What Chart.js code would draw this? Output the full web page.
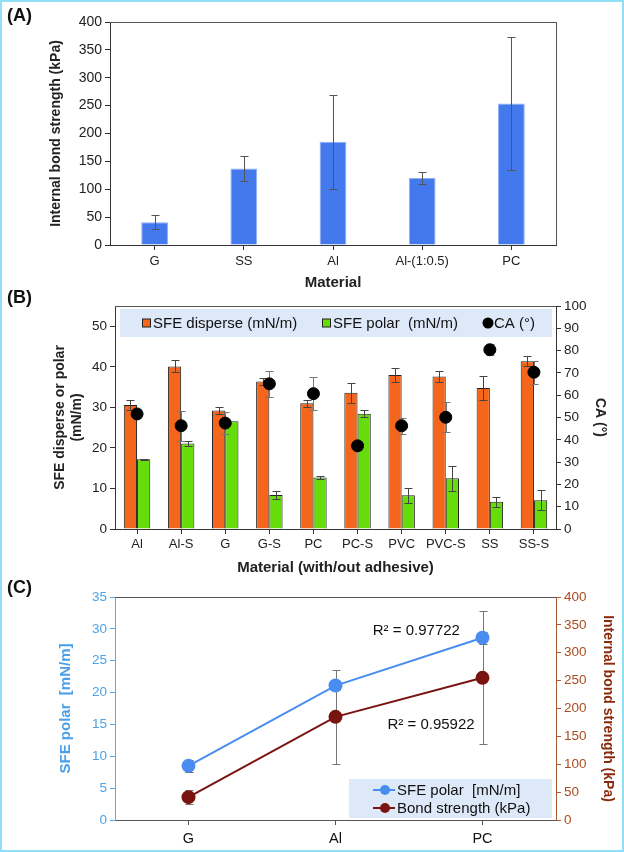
<!DOCTYPE html>
<html>
<head>
<meta charset="utf-8">
<script src="https://cdn.jsdelivr.net/npm/chart.js@4.4.1/dist/chart.umd.min.js"></script>
<style>
html, body { margin: 0; padding: 0; background: #fff; }
#frame { position: absolute; left: 0; top: 0; width: 620px; height: 848px; border: 2px solid #90e0f6; }
.pan { position: absolute; left: 0; width: 624px; }
.lbl { position: absolute; left: 7px; font: bold 18px "Liberation Sans", Arial, sans-serif; color: #111; }
</style>
</head>
<body>
<div id="frame"></div>
<div class="pan" style="top:0;height:292px"><canvas id="cA"></canvas></div>
<div class="pan" style="top:280px;height:300px"><canvas id="cB"></canvas></div>
<div class="pan" style="top:580px;height:272px"><canvas id="cC"></canvas></div>
<div class="lbl" style="top:5px">(A)</div>
<div class="lbl" style="top:287px">(B)</div>
<div class="lbl" style="top:577px">(C)</div>
<script>
// (A) internal bond strength
const matA = ['G', 'SS', 'Al', 'Al-(1:0.5)', 'PC'];
const bondA = [41, 137, 185, 120, 254];
const bondErrA = [12, 22, 84, 10.5, 119];

// (B) surface free energy + contact angle
const matB = ['Al', 'Al-S', 'G', 'G-S', 'PC', 'PC-S', 'PVC', 'PVC-S', 'SS', 'SS-S'];
const disperse = [30.6, 40.1, 29.2, 36.4, 31.0, 33.6, 38.0, 37.6, 34.8, 41.4];
const disperseErr = [1.2, 1.5, 0.9, 0.8, 0.8, 2.5, 1.7, 1.3, 3.0, 1.3];
const polar = [17.2, 21.1, 26.6, 8.4, 12.7, 28.4, 8.3, 12.5, 6.7, 7.1];
const polarErr = [0.15, 0.7, 0, 0.9, 0.3, 0.85, 1.8, 3.1, 1.2, 2.5];
const ca = [51.6, 46.3, 47.5, 65.1, 60.7, 37.3, 46.3, 50.1, 80.4, 70.3];
const caErr = [2, 6.8, 5, 5.8, 7.5, 2, 3.5, 6.7, 2.5, 5.2];

// (C) polar SFE vs bond strength
const matC = ['G', 'Al', 'PC'];
const polarC = [8.5, 21.1, 28.6];
const polarErrC = [0.9, 0.7, 0.95];
const bondC = [41, 185, 255];
const bondErrC = [12, 84, 119];
const r2Labels = ['R\u00B2 = 0.97722', 'R\u00B2 = 0.95922'];
const r2Anchor = [[1.55, 29.7], [1.65, 14.9]]; // [category index, left axis value]

Chart.defaults.font.family = '"Liberation Sans", Arial, sans-serif';
Chart.defaults.color = '#222';
Chart.defaults.animation = false;
Chart.defaults.plugins.legend.display = false;
Chart.defaults.plugins.tooltip.enabled = false;

// error bars, drawn per dataset
const errPlugin = {
  id: 'err',
  beforeDatasetDraw(chart, args) { if (chart.data.datasets[args.index].errBefore) drawErr(chart, args); },
  afterDatasetDraw(chart, args) { if (!chart.data.datasets[args.index].errBefore) drawErr(chart, args); }
};
function drawErr(chart, args) {
  const ds = chart.data.datasets[args.index];
  if (!ds.err) return;
  const meta = args.meta;
  const sc = chart.scales[meta.yAxisID];
  const ctx = chart.ctx;
  ctx.save();
  ctx.strokeStyle = ds.errColor || '#666';
  ctx.lineWidth = 1;
  meta.data.forEach((el, i) => {
    const e = ds.err[i];
    if (!e) return;
    const v = ds.data[i];
    const x = Math.round(el.x) + 0.5;
    const y1 = Math.round(sc.getPixelForValue(v + e)) + 0.5;
    const y2 = Math.round(sc.getPixelForValue(v - e)) + 0.5;
    ctx.beginPath();
    ctx.moveTo(x, y1); ctx.lineTo(x, y2);
    ctx.moveTo(x - 4, y1); ctx.lineTo(x + 4, y1);
    ctx.moveTo(x - 4, y2); ctx.lineTo(x + 4, y2);
    ctx.stroke();
  });
  ctx.restore();
}

// top and right edges of the plot frame
const boxPlugin = {
  id: 'box',
  afterDraw(chart, args, opts) {
    const a = chart.chartArea, ctx = chart.ctx;
    ctx.save();
    ctx.strokeStyle = opts.color || '#555';
    ctx.lineWidth = 1;
    ctx.beginPath();
    ctx.moveTo(a.left, Math.round(a.top) + 0.5);
    ctx.lineTo(a.right, Math.round(a.top) + 0.5);
    if (opts.right) {
      ctx.moveTo(Math.round(a.right) + 0.5, a.top);
      ctx.lineTo(Math.round(a.right) + 0.5, a.bottom);
    }
    ctx.stroke();
    ctx.restore();
  }
};

const tickFont = { size: 13.5 };
function axisGrid(color, offset) {
  return { display: true, drawOnChartArea: false, drawTicks: true, tickLength: 5, color: color, offset: !!offset };
}

// ---------- (A)
new Chart(document.getElementById('cA'), {
  type: 'bar',
  data: {
    labels: matA,
    datasets: [{
      data: bondA, err: bondErrA, errColor: '#555',
      backgroundColor: '#4479ee', borderColor: '#8db0f2', borderWidth: 1,
      barPercentage: 0.3, categoryPercentage: 1
    }]
  },
  options: {
    responsive: true, maintainAspectRatio: false,
    layout: { padding: { left: 44, right: 68, top: 22, bottom: 0 } },
    plugins: { box: { color: '#555', right: true } },
    scales: {
      x: {
        grid: axisGrid('#333'), border: { color: '#333' },
        ticks: { font: { size: 13 }, padding: 4, maxRotation: 0, autoSkip: false },
        title: { display: true, text: 'Material', font: { size: 15, weight: 'bold' }, padding: { top: 0, bottom: 0 } },
        afterFit(s) { s.height = 47; }
      },
      y: {
        min: 0, max: 400,
        grid: axisGrid('#333'), border: { color: '#333' },
        ticks: { stepSize: 50, font: { size: 14 } },
        title: { display: true, text: 'Internal bond strength (kPa)', font: { size: 14, weight: 'bold' }, padding: { top: 4, bottom: 4 } },
        afterFit(s) { s.width = 66; }
      }
    }
  },
  plugins: [errPlugin, boxPlugin]
});

// ---------- (B)
const legendB = {
  id: 'legendB',
  afterDraw(chart) {
    const a = chart.chartArea, ctx = chart.ctx;
    const top = a.top + 3, h = 28, cy = top + h / 2;
    ctx.save();
    ctx.fillStyle = '#dde9f8';
    ctx.fillRect(a.left + 5, top, a.right - a.left - 9, h);
    ctx.font = '15px "Liberation Sans", Arial, sans-serif';
    ctx.textBaseline = 'middle';
    const xs = [146, 326, 487];
    chart.data.datasets.forEach((ds, i) => {
      const x = xs[i];
      if (ds.type === 'line') {
        ctx.fillStyle = ds.pointBackgroundColor;
        ctx.beginPath(); ctx.arc(x + 1, cy, 5.5, 0, Math.PI * 2); ctx.fill();
      } else {
        ctx.fillStyle = ds.backgroundColor;
        ctx.fillRect(x - 3.5, cy - 4, 8, 8);
        ctx.strokeStyle = '#222'; ctx.lineWidth = 1;
        ctx.strokeRect(x - 3.5, cy - 4, 8, 8);
      }
      ctx.fillStyle = '#111';
      ctx.fillText(ds.label, x + 7, cy + 1);
    });
    ctx.restore();
  }
};

new Chart(document.getElementById('cB'), {
  type: 'bar',
  data: {
    labels: matB,
    datasets: [
      { label: 'SFE disperse (mN/m)', data: disperse, err: disperseErr, errColor: '#444',
        backgroundColor: '#f4661c', borderColor: '#222', borderWidth: 1, order: 2,
        barPercentage: 1, categoryPercentage: 0.6 },
      { label: 'SFE polar  (mN/m)', data: polar, err: polarErr, errColor: '#444',
        backgroundColor: '#66dd0a', borderColor: '#222', borderWidth: 1, order: 2,
        barPercentage: 1, categoryPercentage: 0.6 },
      { type: 'line', label: 'CA (\u00B0)', data: ca, err: caErr, errColor: '#777', errBefore: true,
        yAxisID: 'y1', showLine: false, pointRadius: 6, pointBackgroundColor: '#000',
        pointBorderColor: '#000', order: 0 }
    ]
  },
  options: {
    responsive: true, maintainAspectRatio: false,
    layout: { padding: { left: 50, right: 14, top: 26, bottom: 0 } },
    plugins: { box: { color: '#555', right: false } },
    scales: {
      x: {
        grid: axisGrid('#333'), border: { color: '#333' },
        ticks: { font: { size: 13 }, padding: 3, maxRotation: 0, autoSkip: false },
        title: { display: true, text: 'Material (with/out adhesive)', font: { size: 15, weight: 'bold' }, padding: { top: 0, bottom: 3 } },
        afterFit(s) { s.height = 51; }
      },
      y: {
        min: 0, max: 55,
        grid: axisGrid('#333'), border: { color: '#333' },
        ticks: { stepSize: 10, font: tickFont, includeBounds: false },
        title: { display: true, text: ['SFE disperse or polar', '(mN/m)'], font: { size: 14, weight: 'bold' }, padding: { top: 2, bottom: 2 } },
        afterFit(s) { s.width = 65; }
      },
      y1: {
        position: 'right', min: 0, max: 100,
        grid: axisGrid('#333'), border: { color: '#333' },
        ticks: { stepSize: 10, font: tickFont },
        title: { display: true, text: 'CA (\u00B0)', font: { size: 14, weight: 'bold' }, padding: { top: 2, bottom: 2 } },
        afterFit(s) { s.width = 54; }
      }
    }
  },
  plugins: [errPlugin, boxPlugin, legendB]
});

// ---------- (C)
const blue = '#4a8df0';
const brown = '#7a1410';
const legendC = {
  id: 'legendC',
  afterDraw(chart) {
    const a = chart.chartArea, ctx = chart.ctx;
    const w = 203, h = 39;
    const left = a.right - w - 4, top = a.bottom - h - 2;
    ctx.save();
    ctx.fillStyle = '#dde9f8';
    ctx.fillRect(left, top, w, h);
    ctx.font = '15px "Liberation Sans", Arial, sans-serif';
    ctx.textBaseline = 'middle';
    chart.data.datasets.forEach((ds, i) => {
      const cy = top + 11 + i * 18;
      ctx.strokeStyle = ds.borderColor; ctx.lineWidth = 2;
      ctx.beginPath(); ctx.moveTo(left + 24, cy); ctx.lineTo(left + 46, cy); ctx.stroke();
      ctx.fillStyle = ds.pointBackgroundColor;
      ctx.beginPath(); ctx.arc(left + 36, cy, 5, 0, Math.PI * 2); ctx.fill();
      ctx.fillStyle = '#111';
      ctx.fillText(ds.label, left + 48, cy + 1);
    });
    ctx.restore();
  }
};
const r2Plugin = {
  id: 'r2',
  afterDraw(chart) {
    const ctx = chart.ctx, xs = chart.scales.x, ys = chart.scales.y;
    ctx.save();
    ctx.font = '15px "Liberation Sans", Arial, sans-serif';
    ctx.fillStyle = '#111';
    ctx.textAlign = 'center';
    ctx.textBaseline = 'middle';
    r2Labels.forEach((t, i) => {
      ctx.fillText(t, xs.getPixelForValue(r2Anchor[i][0]), ys.getPixelForValue(r2Anchor[i][1]));
    });
    ctx.restore();
  }
};

new Chart(document.getElementById('cC'), {
  type: 'line',
  data: {
    labels: matC,
    datasets: [
      { label: 'SFE polar  [mN/m]', data: polarC, err: polarErrC, errColor: '#666', errBefore: true,
        borderColor: blue, backgroundColor: blue, pointBackgroundColor: blue, pointBorderColor: blue,
        borderWidth: 2, pointRadius: 6, yAxisID: 'y' },
      { label: 'Bond strength (kPa)', data: bondC, err: bondErrC, errColor: '#777', errBefore: true,
        borderColor: brown, backgroundColor: brown, pointBackgroundColor: brown, pointBorderColor: brown,
        borderWidth: 2, pointRadius: 6, yAxisID: 'y1' }
    ]
  },
  options: {
    responsive: true, maintainAspectRatio: false,
    layout: { padding: { left: 53, right: 4, top: 17, bottom: 0 } },
    plugins: { box: { color: '#555', right: false } },
    scales: {
      x: {
        offset: true,
        grid: axisGrid('#555'),
        border: { color: '#555' },
        ticks: { font: { size: 14.5 }, padding: 5, color: '#111' },
        afterFit(s) { s.height = 32; }
      },
      y: {
        min: 0, max: 35,
        grid: axisGrid('#5aa8ea'), border: { color: '#5aa8ea' },
        ticks: { stepSize: 5, font: tickFont, color: '#4da3e8' },
        title: { display: true, text: 'SFE polar  [mN/m]', color: '#4a9fe8', font: { size: 15, weight: 'bold' }, padding: { top: 4, bottom: 4 } },
        afterFit(s) { s.width = 62; }
      },
      y1: {
        position: 'right', min: 0, max: 400,
        grid: axisGrid('#a85a30'), border: { color: '#a85a30' },
        ticks: { stepSize: 50, font: tickFont, color: '#a84c1e' },
        title: { display: true, text: 'Internal bond strength (kPa)', color: '#8a2a0c', font: { size: 14, weight: 'bold' }, padding: { top: 4, bottom: 2 } },
        afterFit(s) { s.width = 64; }
      }
    }
  },
  plugins: [errPlugin, boxPlugin, legendC, r2Plugin]
});
</script>
</body>
</html>
